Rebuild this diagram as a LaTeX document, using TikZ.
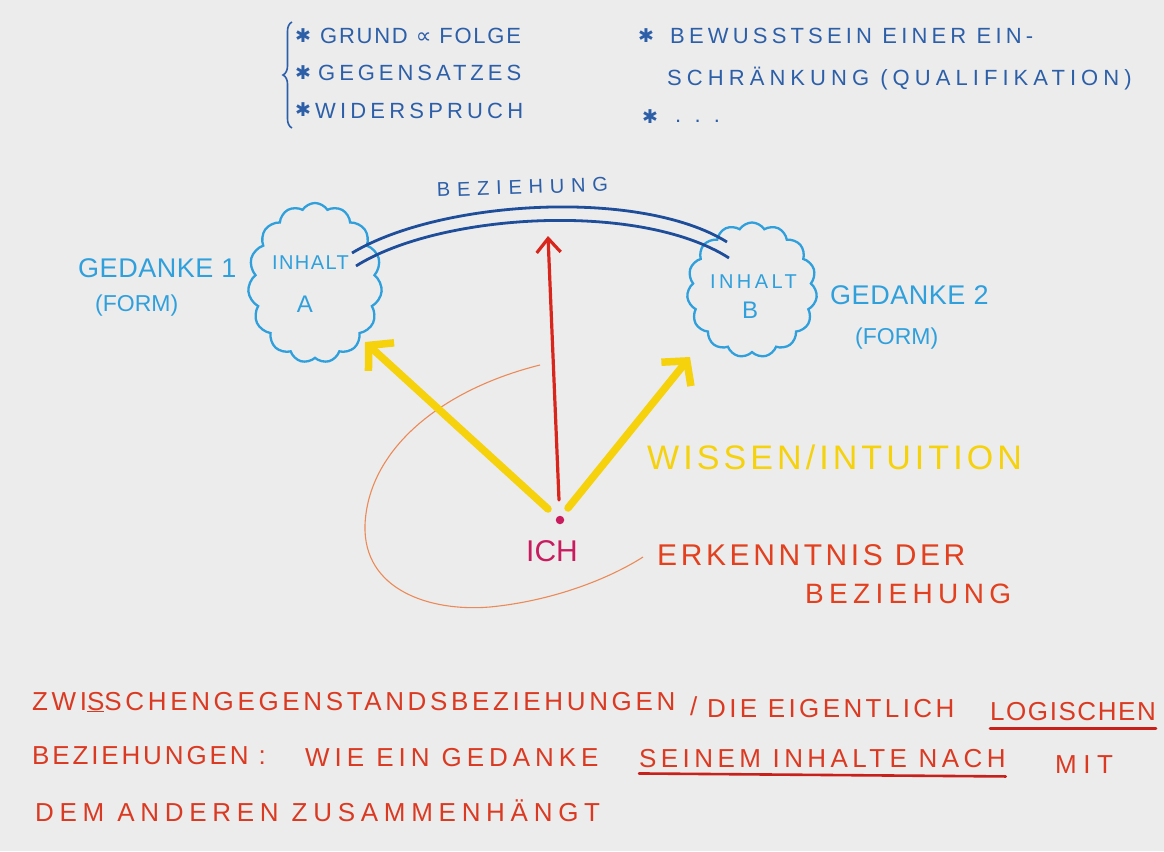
\documentclass[tikz,border=0pt]{standalone}
\usepackage{fontspec}
\setmainfont{Liberation Sans}
\newfontfamily\handfont{Liberation Sans}
\newfontfamily\symfont{DejaVu Sans}
\usetikzlibrary{shapes.symbols,arrows.meta,decorations.pathreplacing}

\definecolor{paper}{HTML}{ECECEC}
\definecolor{ink}{HTML}{2D5FA8}
\definecolor{arcblue}{HTML}{1E4D9A}
\definecolor{sky}{HTML}{2FA0DC}
\definecolor{sun}{HTML}{F5D20C}
\definecolor{redpen}{HTML}{D9261C}
\definecolor{plum}{HTML}{C81C5E}
\definecolor{loopc}{HTML}{EB8A58}
\definecolor{erk}{HTML}{E2401E}
\definecolor{bottomred}{HTML}{DB3A22}
\definecolor{underred}{HTML}{C8201A}

% hand-lettering font: size and letter spacing
\newcommand\hw[2]{\handfont\fontsize{#1}{#1}\selectfont\addfontfeature{LetterSpace=#2}}

\begin{document}
\begin{tikzpicture}[x=1pt,y=-1pt,
  txt/.style={inner sep=0pt, anchor=base west},
  star/.style={inner sep=0pt, font=\symfont\fontsize{19}{19}\selectfont, text=ink},
  cloudbox/.style={cloud, cloud puffs=15, cloud puff arc=115, cloud ignores aspect,
                   draw=sky, line width=2.3pt, inner sep=0pt},
  yarrow/.style={draw=sun, line width=7.5pt, line cap=round,
                 -{Straight Barb[length=17pt,width=38pt]}},
  rarrow/.style={draw=redpen, line width=3.2pt, line cap=round,
                 -{Straight Barb[length=14pt,width=24pt]}},
  arcline/.style={draw=arcblue, line width=2.8pt},
  uline/.style={draw=underred, line width=2.6pt, line cap=round},
]
\fill[paper] (0,0) rectangle (1164,851);
\useasboundingbox (0,0) rectangle (1164,851);

% ---- list of relation kinds (top left) ----
\draw[ink, line width=1.6pt, decorate, decoration={brace, amplitude=9pt}]
  (292,128) -- (292,22);
\node[star] (s1) at (303,36) {✱};
\node[txt, text=ink, font=\hw{22}{8}] (k1) at (320,44) {GRUND {\symfont ∝} FOLGE};
\node[star] (s2) at (303,73) {✱};
\node[txt, text=ink, font=\hw{22}{18}] (k2) at (318,81) {GEGENSATZES};
\node[star] (s3) at (303,110) {✱};
\node[txt, text=ink, font=\hw{22}{19}] (k3) at (315,118) {WIDERSPRUCH};

% ---- top right ----
\node[star] (s4) at (646,36) {✱};
\node[txt, text=ink, font=\hw{22}{19}] (k4) at (670,44) {BEWUSSTSEIN EINER EIN-};
\node[txt, text=ink, font=\hw{22}{23}] (k5) at (667,85) {SCHRÄNKUNG (QUALIFIKATION)};
\node[star] (s6) at (650,117) {✱};
\node[txt, text=ink, font=\hw{22}{60}] (k6) at (675,122) {...};

% ---- the two thoughts ----
\node[cloudbox, minimum width=134pt, minimum height=160pt] (ga) at (315,283) {};
\node[cloudbox, minimum width=130pt, minimum height=135pt] (gb) at (752,290) {};

\node[txt, text=sky, font=\hw{20}{7}] (ia) at (272,269) {INHALT};
\node[anchor=base, inner sep=0pt, text=sky, font=\hw{24}{0}] (la) at (305,312) {A};
\node[txt, text=sky, font=\hw{20}{17}] (ib) at (710,288) {INHALT};
\node[anchor=base, inner sep=0pt, text=sky, font=\hw{24}{0}] (lb) at (750,318) {B};

\node[txt, text=sky, font=\hw{27}{2}] (g1) at (78,277) {GEDANKE 1};
\node[txt, text=sky, font=\hw{23}{0}] (f1) at (95,311) {(FORM)};
\node[txt, text=sky, font=\hw{27}{2}] (g2) at (830,304) {GEDANKE 2};
\node[txt, text=sky, font=\hw{23}{0}] (f2) at (855,344) {(FORM)};

% ---- relation: double arc between the contents ----
\coordinate (a1) at (352,253);
\coordinate (a2) at (356,266);
\coordinate (b1) at (727,242);
\coordinate (b2) at (729,258);
\draw[arcline] (a1) .. controls (440,200) and (640,188) .. (b1);
\draw[arcline] (a2) .. controls (440,213) and (640,201) .. (b2);
\node[txt, text=ink, font=\hw{20}{34}, rotate=2] (bz) at (437,197) {BEZIEHUNG};

% ---- the self and its knowledge ----
\draw[loopc, line width=1.1pt]
  (540,365) .. controls (440,390) and (368,450) .. (365,525)
            .. controls (363,590) and (430,612) .. (490,607)
            .. controls (560,600) and (615,575) .. (643,557);

\node[circle, fill=plum, inner sep=0pt, minimum size=8.5pt] (ich) at (560,520) {};
\node[anchor=base, inner sep=0pt, text=plum, font=\hw{30}{0}] (ichl) at (552,561) {ICH};

\coordinate (tl) at (548,509);
\coordinate (tr) at (568,508);
\coordinate (tm) at (559,500);
\coordinate (hl) at (365,342);
\coordinate (hr) at (690,357);
\coordinate (hm) at (548,236);
\draw[yarrow] (tl) -- (hl);
\draw[yarrow] (tr) -- (hr);
\draw[rarrow] (tm) -- (hm);

\node[txt, text=sun, font=\hw{34}{12}] (wi) at (647,469) {WISSEN/INTUITION};
\node[txt, text=erk, font=\hw{30}{12}] (er) at (657,565) {ERKENNTNIS DER};
\node[txt, text=erk, font=\hw{28}{19}] (be) at (805,603) {BEZIEHUNG};

% ---- statement at the bottom ----
\node[txt, text=bottomred, font=\hw{26}{14}] (z1) at (32,710) {ZWI\underline{S}SCHENGEGENSTANDSBEZIEHUNGEN};
\node[txt, text=bottomred, font=\hw{26}{0}] (z2) at (690,715) {/};
\node[txt, text=bottomred, font=\hw{26}{13}] (z3) at (707,717) {DIE EIGENTLICH};
\node[txt, text=bottomred, font=\hw{26}{6}] (z4) at (990,720) {LOGISCHEN};
\draw[uline] ([yshift=-8pt]z4.south west) -- ([yshift=-8pt]z4.south east);

\node[txt, text=bottomred, font=\hw{26}{11}] (y1) at (32,764) {BEZIEHUNGEN :};
\node[txt, text=bottomred, font=\hw{26}{19}] (y2) at (305,766) {WIE EIN GEDANKE};
\node[txt, text=bottomred, font=\hw{26}{17}] (y3) at (639,767) {SEINEM INHALTE NACH};
\node[txt, text=bottomred, font=\hw{26}{25}] (y4) at (1055,773) {MIT};
\draw[uline] ([yshift=-6pt]y3.south west) -- ([yshift=-9pt]y3.south east);

\node[txt, text=bottomred, font=\hw{26}{22}] (x1) at (35,821) {DEM ANDEREN ZUSAMMENHÄNGT};
\end{tikzpicture}
\end{document}
